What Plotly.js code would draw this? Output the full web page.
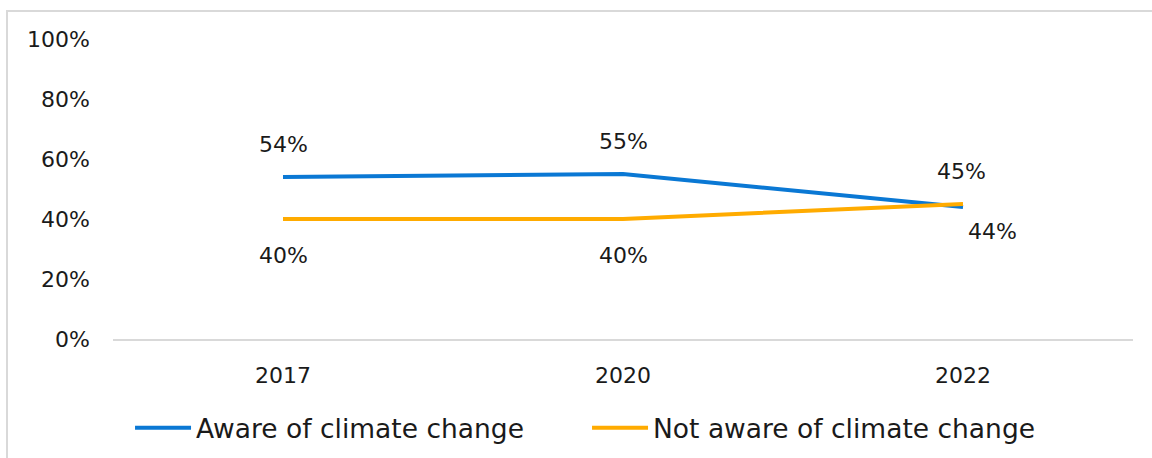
<!DOCTYPE html>
<html>
<head>
<meta charset="utf-8">
<script src="https://cdn.plot.ly/plotly-3.0.1.min.js"></script>
<style>
  html, body { margin: 0; padding: 0; background: #fff; }
  #wrap { position: relative; width: 1152px; height: 458px; overflow: hidden; }
  #frame { position: absolute; left: 6px; top: 10px; width: 1200px; height: 500px;
           border-left: 2px solid #d9d9d9; border-top: 2px solid #d9d9d9; box-sizing: border-box; }
  #chart { position: absolute; left: 0; top: 0; width: 1152px; height: 458px; }
</style>
</head>
<body>
<div id="wrap">
  <div id="frame"></div>
  <div id="chart"></div>
</div>
<script>
// Survey years and share of respondents (%)
const years = ['2017', '2020', '2022'];
const aware = [54, 55, 44];
const notAware = [40, 40, 45];
const seriesNames = ['Aware of climate change', 'Not aware of climate change'];
const tickVals = [0, 20, 40, 60, 80, 100];
const tickText = ['0%', '20%', '40%', '60%', '80%', '100%'];

const BLUE = '#0a78d4';
const ORANGE = '#ffab00';
const FONT = 'DejaVu Sans, sans-serif';
const TEXT = '#1a1a1a';

const traces = [
  { x: years, y: aware, name: seriesNames[0], type: 'scatter', mode: 'lines',
    line: { color: BLUE, width: 4 }, hoverinfo: 'skip' },
  { x: years, y: notAware, name: seriesNames[1], type: 'scatter', mode: 'lines',
    line: { color: ORANGE, width: 4 }, hoverinfo: 'skip' }
];

// Label placement per point: [xshift, yshift]
const awareShift = [[0, 33], [0, 33], [29, -24]];
const notAwareShift = [[0, -36], [0, -36], [-2, 33]];

const annotations = [];
function addLabels(values, shifts) {
  values.forEach((v, i) => {
    annotations.push({
      // category axis: position by category index
      x: i, y: v, xref: 'x', yref: 'y',
      text: v + '%', showarrow: false,
      xshift: shifts[i][0], yshift: shifts[i][1],
      font: { family: FONT, size: 22, color: TEXT }
    });
  });
}
addLabels(aware, awareShift);
addLabels(notAware, notAwareShift);

const layout = {
  width: 1152, height: 458,
  margin: { l: 113, r: 19, t: 39, b: 119, autoexpand: false },
  paper_bgcolor: 'rgba(0,0,0,0)',
  plot_bgcolor: 'rgba(0,0,0,0)',
  font: { family: FONT, size: 22, color: TEXT },
  showlegend: true,
  legend: {
    orientation: 'h', x: 0.0167, xanchor: 'left', y: -0.297, yanchor: 'middle',
    entrywidth: 386, itemwidth: 56,
    font: { family: FONT, size: 26.5, color: TEXT },
    itemclick: false, itemdoubleclick: false
  },
  xaxis: {
    type: 'category', range: [-0.5, 2.5],
    showgrid: false, zeroline: false,
    showline: true, linecolor: '#d9d9d9', linewidth: 2,
    ticks: '', ticklabelstandoff: 16,
    tickfont: { family: FONT, size: 22, color: TEXT }
  },
  yaxis: {
    range: [0, 100], tickvals: tickVals, ticktext: tickText,
    showgrid: false, zeroline: false, showline: false,
    ticks: '', ticklabelstandoff: 22,
    tickfont: { family: FONT, size: 22, color: TEXT }
  },
  annotations: annotations
};

Plotly.newPlot('chart', traces, layout, { displayModeBar: false, staticPlot: true });
</script>
</body>
</html>
